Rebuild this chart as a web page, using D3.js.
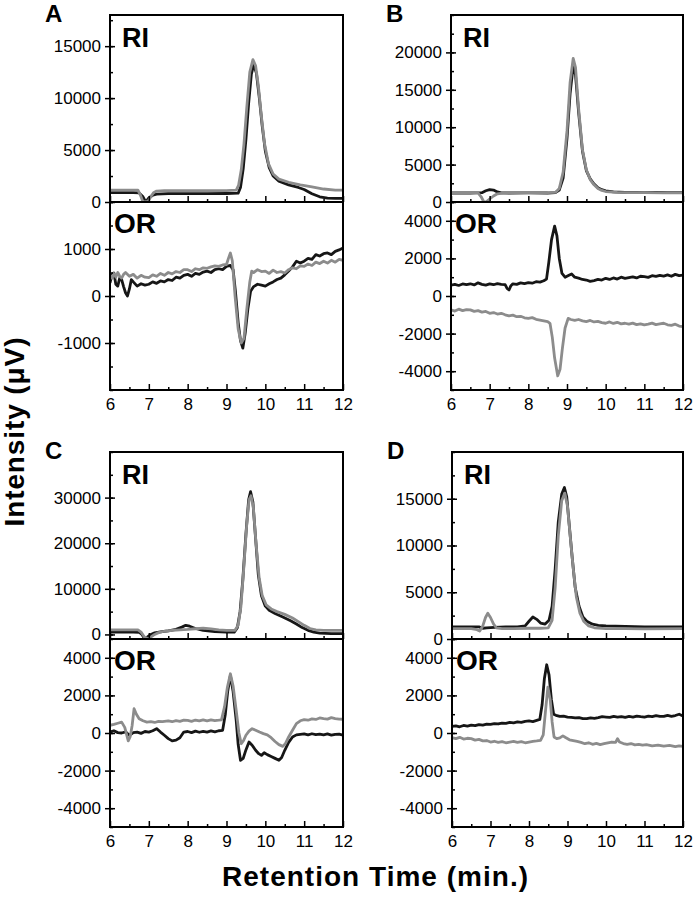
<!DOCTYPE html>
<html>
  <head>
    <meta charset="utf-8">
    <style>
      body {
        margin: 0;
        background: #fff;
      }
      svg text {
        font-family: "Liberation Sans", Arial, sans-serif;
        fill: #000;
      }
      .tick text {
        font-size: 17px;
      }
      .tick line {
        stroke: #000;
        stroke-width: 1.5px;
      }
      .frame {
        fill: none;
        stroke: #000;
        stroke-width: 2px;
      }
      .trace {
        fill: none;
        stroke-width: 2.8px;
        stroke-linejoin: round;
      }
      .big {
        font-weight: bold;
      }
    </style>
  </head>
  <body>
    <script src="https://d3js.org/d3.v7.min.js"></script>
    <script>
      var width = 693, height = 904;

      var timeTicks = [6, 7, 8, 9, 10, 11, 12];
      var traceColors = { black: "#161616", gray: "#8c8c8c" };

      // panel A
      var riBlackA = [[6,900],[6.3,900],[6.6,900],[6.75,880],[6.85,500],[6.92,0],[7.0,400],[7.1,650],[7.2,760],[7.5,800],[8,800],[8.5,800],[9,820],[9.3,850],[9.36,1400],[9.43,3200],[9.5,6000],[9.57,9500],[9.64,12300],[9.7,13200],[9.77,12400],[9.84,10200],[9.92,7300],[10,4900],[10.1,3300],[10.2,2500],[10.35,2000],[10.6,1650],[10.85,1400],[11.0,1200],[11.2,800],[11.4,500],[11.6,380],[11.8,350],[12,350]];
      var riGrayA = [[6,1150],[6.3,1150],[6.6,1150],[6.72,1130],[6.78,700],[6.84,100],[6.88,0],[6.98,50],[7.05,500],[7.12,900],[7.2,1050],[7.4,1100],[8,1100],[8.5,1100],[9,1100],[9.25,1150],[9.31,1600],[9.38,3100],[9.45,5600],[9.52,9000],[9.6,12500],[9.68,13700],[9.75,13100],[9.82,11200],[9.9,8200],[9.98,5600],[10.08,3700],[10.2,2700],[10.35,2200],[10.6,1900],[10.9,1650],[11.2,1450],[11.5,1250],[11.8,1150],[12,1150]];
      var orBlackA = [[6,280],[6.05,450],[6.1,490],[6.15,250],[6.2,210],[6.25,380],[6.3,350],[6.35,200],[6.4,70],[6.45,0],[6.5,150],[6.55,350],[6.6,300],[6.7,210],[6.8,260],[6.9,230],[7,250],[7.1,300],[7.2,270],[7.3,320],[7.4,300],[7.5,350],[7.6,330],[7.7,400],[7.8,380],[7.9,440],[8,460],[8.1,420],[8.2,480],[8.3,460],[8.4,510],[8.5,530],[8.6,500],[8.7,560],[8.8,580],[8.9,560],[9,630],[9.1,650],[9.17,560],[9.23,100],[9.3,-560],[9.36,-950],[9.42,-1110],[9.48,-800],[9.55,-280],[9.62,100],[9.7,200],[9.8,250],[9.9,230],[10,210],[10.1,260],[10.2,300],[10.3,350],[10.4,380],[10.5,450],[10.6,530],[10.7,620],[10.8,740],[10.9,700],[11,740],[11.1,800],[11.2,780],[11.3,880],[11.4,850],[11.5,900],[11.6,915],[11.7,880],[11.8,950],[11.9,980],[12,1020]];
      var orGrayA = [[6,440],[6.05,380],[6.1,480],[6.15,400],[6.2,500],[6.25,420],[6.3,380],[6.35,460],[6.4,500],[6.5,420],[6.6,460],[6.7,380],[6.8,440],[6.9,400],[7,390],[7.1,450],[7.2,420],[7.3,480],[7.4,440],[7.5,500],[7.6,470],[7.7,520],[7.8,500],[7.9,560],[8,560],[8.1,520],[8.2,580],[8.3,560],[8.4,600],[8.5,590],[8.6,620],[8.7,640],[8.8,630],[8.9,660],[9,670],[9.05,800],[9.1,915],[9.15,750],[9.22,0],[9.3,-700],[9.38,-1000],[9.45,-900],[9.52,-300],[9.6,300],[9.65,530],[9.7,500],[9.8,560],[9.9,520],[10,530],[10.1,480],[10.2,550],[10.3,500],[10.4,520],[10.5,490],[10.6,560],[10.7,600],[10.8,580],[10.9,640],[11,630],[11.1,680],[11.2,650],[11.3,720],[11.4,690],[11.5,740],[11.6,700],[11.7,760],[11.8,720],[11.9,780],[12,760]];

      // panel B
      var riBlackB = [[6,1200],[6.5,1200],[6.8,1250],[6.9,1500],[7,1650],[7.1,1600],[7.2,1350],[7.3,1220],[7.5,1200],[8,1220],[8.5,1200],[8.7,1250],[8.8,1600],[8.9,3200],[9,8500],[9.08,14500],[9.16,18200],[9.22,17000],[9.3,12000],[9.4,6800],[9.5,4200],[9.6,3100],[9.7,2400],[9.8,1900],[9.9,1650],[10,1500],[10.2,1350],[10.5,1280],[10.8,1300],[11,1250],[11.3,1280],[11.6,1250],[12,1250]];
      var riGrayB = [[6,1250],[6.5,1250],[6.7,1230],[6.78,700],[6.85,0],[6.92,50],[7.0,400],[7.1,800],[7.2,1100],[7.35,1200],[7.5,1250],[8,1250],[8.5,1250],[8.7,1280],[8.8,1800],[8.9,4000],[9,9500],[9.08,16000],[9.16,19200],[9.22,18000],[9.3,12500],[9.4,7000],[9.5,4300],[9.6,3000],[9.7,2300],[9.8,1800],[9.9,1550],[10,1400],[10.3,1300],[10.6,1250],[11,1250],[11.5,1230],[12,1230]];
      var orBlackB = [[6,580],[6.1,620],[6.2,560],[6.3,640],[6.4,600],[6.5,650],[6.6,590],[6.7,700],[6.8,620],[6.9,580],[7,640],[7.1,600],[7.2,660],[7.3,620],[7.4,600],[7.45,400],[7.5,320],[7.55,550],[7.6,650],[7.7,620],[7.8,700],[7.9,660],[8,710],[8.1,680],[8.2,760],[8.3,740],[8.4,810],[8.47,900],[8.53,1800],[8.6,3000],[8.68,3720],[8.74,3200],[8.8,2000],[8.87,1200],[8.95,1000],[9.05,1100],[9.12,1170],[9.2,1000],[9.3,950],[9.4,880],[9.5,850],[9.6,780],[9.7,820],[9.8,880],[9.9,850],[10,940],[10.1,880],[10.2,960],[10.3,900],[10.4,1000],[10.5,940],[10.6,980],[10.7,1020],[10.8,960],[10.9,1050],[11,1030],[11.1,990],[11.2,1080],[11.3,1040],[11.4,1100],[11.5,1060],[11.6,1120],[11.7,1050],[11.8,1150],[11.9,1080],[12,1115]];
      var orGrayB = [[6,-740],[6.1,-800],[6.2,-700],[6.3,-780],[6.4,-720],[6.5,-740],[6.6,-820],[6.7,-780],[6.8,-860],[6.9,-820],[7,-920],[7.1,-880],[7.2,-960],[7.3,-920],[7.4,-1000],[7.5,-1060],[7.6,-1020],[7.7,-1100],[7.8,-1080],[7.9,-1160],[8,-1190],[8.1,-1150],[8.2,-1240],[8.3,-1280],[8.4,-1320],[8.5,-1360],[8.56,-1450],[8.62,-2200],[8.68,-3300],[8.76,-4250],[8.82,-3900],[8.88,-2800],[8.95,-1700],[9.03,-1190],[9.1,-1250],[9.2,-1300],[9.3,-1250],[9.4,-1320],[9.5,-1360],[9.6,-1300],[9.7,-1380],[9.8,-1350],[9.9,-1420],[10,-1450],[10.1,-1380],[10.2,-1460],[10.3,-1400],[10.4,-1480],[10.5,-1450],[10.6,-1500],[10.7,-1440],[10.8,-1520],[10.9,-1480],[11,-1540],[11.1,-1500],[11.2,-1440],[11.3,-1520],[11.4,-1480],[11.5,-1450],[11.6,-1530],[11.7,-1560],[11.8,-1500],[11.9,-1600],[12,-1630]];

      // panel C
      var riBlackC = [[6,500],[6.3,500],[6.6,500],[6.75,480],[6.82,0],[6.9,-1000],[6.96,-600],[7.05,0],[7.15,350],[7.3,550],[7.5,800],[7.7,1100],[7.85,1600],[7.95,2000],[8.05,1800],[8.2,1300],[8.4,900],[8.7,600],[9,500],[9.2,500],[9.28,1500],[9.35,5000],[9.42,12000],[9.5,22000],[9.57,29500],[9.62,31300],[9.68,29000],[9.75,21000],[9.82,13000],[9.9,8500],[10,6200],[10.1,5300],[10.25,4600],[10.45,3800],[10.65,3000],[10.8,2300],[10.95,1500],[11.1,900],[11.25,500],[11.4,300],[11.7,200],[12,200]];
      var riGrayC = [[6,1000],[6.3,1000],[6.6,1000],[6.72,980],[6.8,500],[6.88,-500],[6.98,-1000],[7.05,-600],[7.15,0],[7.25,400],[7.4,700],[7.6,900],[7.8,1000],[8,1100],[8.2,1250],[8.4,1400],[8.6,1200],[8.8,1000],[9,900],[9.22,900],[9.3,2000],[9.37,6000],[9.44,14000],[9.52,24000],[9.58,29500],[9.63,30400],[9.69,28000],[9.76,20000],[9.84,12500],[9.92,8500],[10.02,6500],[10.15,5600],[10.3,5000],[10.5,4400],[10.7,3600],[10.85,2800],[11,2000],[11.15,1300],[11.3,1000],[11.5,900],[12,900]];
      var orBlackC = [[6,50],[6.1,120],[6.2,20],[6.3,0],[6.4,60],[6.5,-120],[6.6,20],[6.7,50],[6.8,-20],[6.9,80],[7,50],[7.1,120],[7.2,230],[7.3,50],[7.4,-120],[7.5,-300],[7.6,-420],[7.7,-380],[7.8,-250],[7.9,50],[8,80],[8.1,20],[8.2,100],[8.3,40],[8.4,90],[8.5,50],[8.6,110],[8.7,60],[8.8,120],[8.9,140],[8.97,1000],[9.03,2200],[9.1,3060],[9.17,2200],[9.25,670],[9.3,-600],[9.36,-1450],[9.43,-1350],[9.5,-900],[9.58,-480],[9.66,-650],[9.75,-920],[9.83,-1100],[9.9,-1190],[9.97,-1050],[10.05,-1150],[10.15,-1250],[10.25,-1350],[10.35,-1450],[10.42,-1300],[10.5,-920],[10.6,-500],[10.7,-210],[10.8,-100],[10.9,-70],[11,-50],[11.1,-100],[11.2,-40],[11.3,-90],[11.4,-60],[11.5,-100],[11.6,-50],[11.7,-110],[11.8,-70],[11.9,-60],[12,-120]];
      var orGrayC = [[6,410],[6.1,460],[6.2,520],[6.3,580],[6.38,300],[6.43,-100],[6.47,-420],[6.52,-200],[6.57,400],[6.62,1290],[6.68,1000],[6.75,760],[6.85,650],[6.95,580],[7.05,600],[7.15,560],[7.25,620],[7.35,600],[7.5,640],[7.6,600],[7.7,660],[7.8,620],[7.9,680],[8,670],[8.1,620],[8.2,690],[8.3,640],[8.4,700],[8.5,650],[8.6,700],[8.7,660],[8.8,680],[8.87,700],[8.95,1400],[9.02,2400],[9.1,3150],[9.17,2500],[9.25,1200],[9.32,0],[9.38,-570],[9.44,-400],[9.5,-120],[9.58,100],[9.66,230],[9.75,150],[9.85,50],[9.95,-35],[10.05,-100],[10.15,-250],[10.25,-450],[10.35,-620],[10.45,-710],[10.52,-550],[10.6,-210],[10.7,150],[10.8,500],[10.9,650],[11,710],[11.1,680],[11.2,750],[11.3,720],[11.4,800],[11.5,760],[11.6,740],[11.7,820],[11.8,770],[11.9,740],[12,730]];

      // panel D
      var riBlackD = [[6,1300],[6.5,1300],[6.7,1300],[6.8,1150],[6.9,1200],[7.1,1250],[7.4,1300],[7.7,1300],[7.9,1400],[8.0,1900],[8.1,2350],[8.2,2100],[8.3,1700],[8.42,1600],[8.52,2000],[8.6,3500],[8.68,7500],[8.76,12500],[8.85,15500],[8.92,16200],[8.98,15200],[9.05,12000],[9.12,8800],[9.2,5500],[9.3,3500],[9.4,2350],[9.5,1900],[9.65,1580],[9.8,1450],[10,1400],[10.5,1350],[11,1300],[12,1300]];
      var riGrayD = [[6,1100],[6.5,1100],[6.65,1000],[6.72,850],[6.8,1400],[6.87,2300],[6.93,2750],[7.0,2300],[7.08,1600],[7.15,1200],[7.3,1100],[7.6,1100],[8,1150],[8.3,1150],[8.5,1200],[8.6,2000],[8.68,5500],[8.76,11000],[8.85,14800],[8.93,15600],[9.0,14200],[9.07,11000],[9.15,7500],[9.23,4500],[9.32,2800],[9.42,1900],[9.55,1400],[9.7,1200],[10,1100],[10.5,1100],[11,1080],[12,1100]];
      var orBlackD = [[6,350],[6.1,380],[6.2,330],[6.3,400],[6.4,370],[6.5,420],[6.6,390],[6.7,450],[6.8,420],[6.9,470],[7,460],[7.1,500],[7.2,480],[7.3,530],[7.4,510],[7.5,560],[7.6,540],[7.7,590],[7.8,570],[7.9,620],[8,640],[8.1,610],[8.2,670],[8.28,720],[8.34,1500],[8.4,2900],[8.46,3630],[8.52,3100],[8.58,1800],[8.64,1000],[8.7,940],[8.8,880],[8.9,900],[9,850],[9.1,830],[9.2,800],[9.3,820],[9.4,770],[9.5,760],[9.6,800],[9.7,780],[9.8,820],[9.9,870],[10,850],[10.1,830],[10.2,880],[10.3,840],[10.4,870],[10.5,830],[10.6,880],[10.7,850],[10.8,900],[10.9,870],[11,850],[11.1,900],[11.2,870],[11.3,920],[11.4,880],[11.5,880],[11.6,940],[11.7,890],[11.8,930],[11.9,1000],[12,900]];
      var orGrayD = [[6,-250],[6.1,-300],[6.2,-230],[6.3,-320],[6.4,-280],[6.5,-300],[6.6,-380],[6.7,-340],[6.8,-420],[6.9,-400],[7,-480],[7.1,-440],[7.2,-500],[7.3,-460],[7.4,-520],[7.5,-480],[7.6,-450],[7.7,-500],[7.8,-460],[7.9,-520],[8,-480],[8.1,-440],[8.2,-420],[8.3,-390],[8.37,-100],[8.43,1200],[8.49,2440],[8.55,1800],[8.6,600],[8.65,-210],[8.72,-300],[8.8,-260],[8.88,-150],[8.95,-240],[9.05,-360],[9.15,-400],[9.25,-450],[9.35,-500],[9.45,-570],[9.55,-520],[9.65,-600],[9.75,-550],[9.85,-620],[9.95,-570],[10.05,-520],[10.15,-480],[10.25,-500],[10.3,-300],[10.35,-480],[10.45,-560],[10.55,-600],[10.65,-560],[10.75,-630],[10.85,-600],[10.95,-650],[11.05,-620],[11.2,-680],[11.35,-640],[11.5,-700],[11.65,-660],[11.8,-720],[11.9,-680],[12,-710]];

      // axis ranges + ticks per panel
      var riDomainA = [0, 18000], riTicksA = [0, 5000, 10000, 15000];
      var orDomainA = [-2000, 2000], orTicksA = [-1000, 0, 1000];
      var riDomainB = [0, 25000], riTicksB = [0, 5000, 10000, 15000, 20000];
      var orDomainB = [-5000, 5000], orTicksB = [-4000, -2000, 0, 2000, 4000];
      var riDomainC = [-1000, 40000], riTicksC = [0, 10000, 20000, 30000];
      var orDomainC = [-5000, 5000], orTicksC = [-4000, -2000, 0, 2000, 4000];
      var riDomainD = [0, 20000], riTicksD = [0, 5000, 10000, 15000];
      var orDomainD = [-5000, 5000], orTicksD = [-4000, -2000, 0, 2000, 4000];

      var panels = [
        { id: "A", left: 110, right: 343, top: 15, mid: 202, bottom: 390,
          ri: { domain: riDomainA, ticks: riTicksA, minor: 2500, black: riBlackA, gray: riGrayA },
          or: { domain: orDomainA, ticks: orTicksA, minor: 500, black: orBlackA, gray: orGrayA } },
        { id: "B", left: 451, right: 683, top: 15, mid: 202, bottom: 390,
          ri: { domain: riDomainB, ticks: riTicksB, minor: 2500, black: riBlackB, gray: riGrayB },
          or: { domain: orDomainB, ticks: orTicksB, minor: 1000, black: orBlackB, gray: orGrayB } },
        { id: "C", left: 110, right: 343, top: 452, mid: 639, bottom: 827,
          ri: { domain: riDomainC, ticks: riTicksC, minor: 5000, black: riBlackC, gray: riGrayC },
          or: { domain: orDomainC, ticks: orTicksC, minor: 1000, black: orBlackC, gray: orGrayC } },
        { id: "D", left: 452, right: 683, top: 452, mid: 639, bottom: 827,
          ri: { domain: riDomainD, ticks: riTicksD, minor: 2500, black: riBlackD, gray: riGrayD },
          or: { domain: orDomainD, ticks: orTicksD, minor: 1000, black: orBlackD, gray: orGrayD } }
      ];

      var svg = d3.select("body").append("svg")
          .attr("width", width)
          .attr("height", height);

      var defs = svg.append("defs");

      // plain hyphen for negatives, like the original
      var fmt = function(d){ return String(d); };

      function minorValues(domain, step) {
        var out = [];
        for (var v = Math.ceil(domain[0] / step) * step; v <= domain[1]; v += step) out.push(v);
        return out;
      }

      function drawSub(p, sub, y0, y1, key, showXLabels) {
        var x = d3.scaleLinear().domain([6, 12]).range([p.left, p.right]);
        var y = d3.scaleLinear().domain(sub.domain).range([y1, y0]);

        var clipId = "clip-" + p.id + "-" + key;
        defs.append("clipPath").attr("id", clipId)
          .append("rect")
            .attr("x", p.left).attr("y", y0)
            .attr("width", p.right - p.left).attr("height", y1 - y0);

        var line = d3.line()
            .x(function(d){ return x(d[0]); })
            .y(function(d){ return y(d[1]); });

        var g = svg.append("g").attr("clip-path", "url(#" + clipId + ")");
        ["black", "gray"].forEach(function(s){
          g.append("path")
              .attr("class", "trace")
              .attr("d", line(sub[s]))
              .style("stroke", traceColors[s]);
        });

        // minor y ticks, pointing in
        svg.append("g")
            .attr("transform", "translate(" + p.left + ",0)")
            .call(d3.axisLeft(y).tickValues(minorValues(sub.domain, sub.minor)).tickSize(-3).tickFormat(""))
            .call(function(a){ a.select(".domain").remove(); });

        // major y ticks crossing the axis
        svg.append("g")
            .attr("transform", "translate(" + p.left + ",0)")
            .call(d3.axisLeft(y).tickValues(sub.ticks).tickSize(5).tickPadding(4).tickFormat(fmt))
            .call(function(a){
              a.select(".domain").remove();
              a.selectAll(".tick line").attr("x1", 5);
            });

        // x ticks along the bottom edge, pointing in
        svg.append("g")
            .attr("transform", "translate(0," + y1 + ")")
            .call(d3.axisBottom(x).tickValues(d3.range(6.5, 12, 1)).tickSize(-3).tickFormat(""))
            .call(function(a){ a.select(".domain").remove(); });
        svg.append("g")
            .attr("transform", "translate(0," + y1 + ")")
            .call(d3.axisBottom(x).tickValues(timeTicks).tickSize(-6).tickPadding(8)
              .tickFormat(showXLabels ? fmt : ""))
            .call(function(a){ a.select(".domain").remove(); });
      }

      panels.forEach(function(p){
        drawSub(p, p.ri, p.top, p.mid, "ri", false);
        drawSub(p, p.or, p.mid, p.bottom, "or", true);

        svg.append("rect")
            .attr("class", "frame")
            .attr("x", p.left).attr("y", p.top)
            .attr("width", p.right - p.left).attr("height", p.bottom - p.top);
        svg.append("line")
            .attr("class", "frame")
            .attr("x1", p.left).attr("x2", p.right)
            .attr("y1", p.mid).attr("y2", p.mid);

        svg.append("text")
            .attr("class", "big")
            .attr("x", p.left + 12).attr("y", p.top + 32)
            .style("font-size", "27px")
            .text("RI");
        svg.append("text")
            .attr("class", "big")
            .attr("x", p.left + 4).attr("y", p.mid + 31)
            .style("font-size", "28px")
            .text("OR");
        svg.append("text")
            .attr("class", "big")
            .attr("x", p.left - 65).attr("y", p.top + 7)
            .style("font-size", "24px")
            .text(p.id);
      });

      svg.append("text")
          .attr("class", "big")
          .attr("x", 375).attr("y", 886)
          .attr("text-anchor", "middle")
          .attr("textLength", 306)
          .style("font-size", "28px")
          .text("Retention Time (min.)");

      svg.append("text")
          .attr("class", "big")
          .attr("transform", "translate(24,432) rotate(-90)")
          .attr("text-anchor", "middle")
          .attr("textLength", 189)
          .style("font-size", "28px")
          .text("Intensity (\u03bcV)");
    </script>
  </body>
</html>
